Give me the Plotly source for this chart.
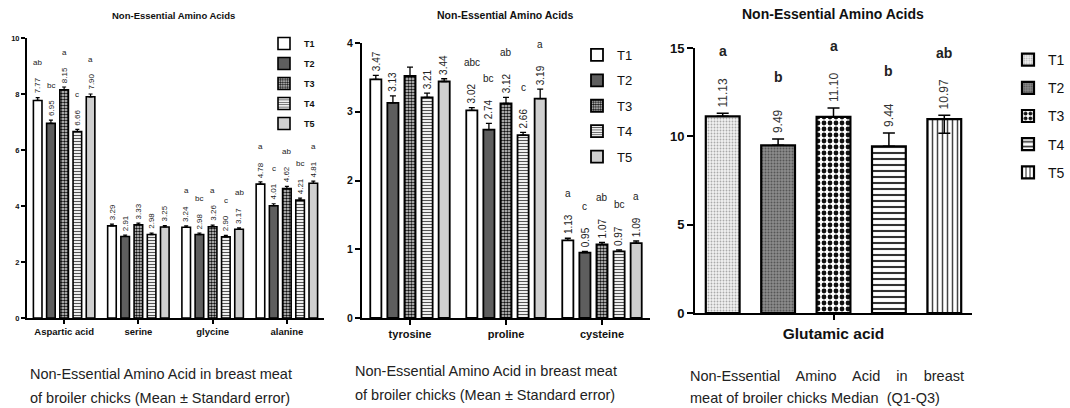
import plotly.graph_objects as go

W, H = 1070, 408
treatments = ["T1", "T2", "T3", "T4", "T5"]

# ---------------- Panel 1 data ----------------
p1_categories = ["Aspartic acid", "serine", "glycine", "alanine"]
p1_values = [
    [7.77, 3.29, 3.24, 4.78],   # T1
    [6.95, 2.91, 2.98, 4.01],   # T2
    [8.15, 3.33, 3.26, 4.62],   # T3
    [6.66, 2.98, 2.90, 4.21],   # T4
    [7.90, 3.25, 3.17, 4.81],   # T5
]
p1_errors = [
    [0.10, 0.06, 0.05, 0.08],
    [0.12, 0.05, 0.05, 0.07],
    [0.10, 0.06, 0.06, 0.08],
    [0.08, 0.05, 0.05, 0.07],
    [0.10, 0.05, 0.05, 0.08],
]
p1_letters = [
    ["ab", "", "a", "a"],
    ["bc", "", "bc", "c"],
    ["a", "", "a", "ab"],
    ["c", "", "c", "bc"],
    ["a", "", "ab", "a"],
]

# ---------------- Panel 2 data ----------------
p2_categories = ["tyrosine", "proline", "cysteine"]
p2_values = [
    [3.47, 3.02, 1.13],
    [3.13, 2.74, 0.95],
    [3.52, 3.12, 1.07],
    [3.21, 2.66, 0.97],
    [3.44, 3.19, 1.09],
]
p2_errors = [
    [0.06, 0.04, 0.03],
    [0.10, 0.09, 0.02],
    [0.13, 0.09, 0.03],
    [0.06, 0.04, 0.02],
    [0.04, 0.14, 0.03],
]
p2_labels = [
    ["3.47", "3.02", "1.13"],
    ["3.13", "2.74", "0.95"],
    ["", "3.12", "1.07"],
    ["3.21", "2.66", "0.97"],
    ["3.44", "3.19", "1.09"],
]
p2_letters = [
    ["", "abc", "a"],
    ["", "bc", "c"],
    ["", "ab", "ab"],
    ["", "c", "bc"],
    ["", "a", "a"],
]

# ---------------- Panel 3 data ----------------
p3_category = "Glutamic acid"
p3_values = [11.13, 9.49, 11.10, 9.44, 10.97]
p3_err_plus = [0.17, 0.36, 0.50, 0.75, 0.23]
p3_err_minus = [0.0, 0.0, 0.0, 0.0, 0.80]
p3_letters = ["a", "b", "a", "b", "ab"]

title_text = "Non-Essential Amino Acids"
captions = [
    ["Non-Essential Amino Acid in breast meat", "of broiler chicks (Mean \u00b1 Standard error)"],
    ["Non-Essential Amino Acid in breast meat", "of broiler chicks (Mean \u00b1 Standard error)"],
    ["Non-Essential    Amino    Acid    in    breast", "meat of broiler chicks Median  (Q1-Q3)"],
]

# ---------------- styles ----------------
FONT = "Liberation Sans, Arial, sans-serif"
NARROW = "Liberation Sans Narrow, Liberation Sans, Arial, sans-serif"

p12_styles = [
    dict(color="white", pattern=dict(shape="")),
    dict(color="#5e5e5e", pattern=dict(shape="")),
    dict(color="white", pattern=dict(shape=".", fgcolor="#111", bgcolor="#e8e8e8", size=3, solidity=0.6)),
    dict(color="white", pattern=dict(shape="-", fgcolor="#555", bgcolor="white", size=3, solidity=0.4)),
    dict(color="#cfcfcf", pattern=dict(shape="")),
]
p3_styles = [
    dict(color="#eeeeee", pattern=dict(shape=".", fgcolor="#aaaaaa", bgcolor="#f2f2f2", size=3, solidity=0.3)),
    dict(color="#808080", pattern=dict(shape=".", fgcolor="#555555", bgcolor="#8c8c8c", size=3, solidity=0.35)),
    dict(color="white", pattern=dict(shape=".", fgcolor="#111111", bgcolor="white", size=6, solidity=0.5)),
    dict(color="white", pattern=dict(shape="-", fgcolor="#333333", bgcolor="white", size=6, solidity=0.35)),
    dict(color="white", pattern=dict(shape="|", fgcolor="#444444", bgcolor="white", size=5, solidity=0.3)),
]

BARGAP = 0.11
BARGROUPGAP = 0.35

# pixel geometry of the three plot areas (left, right, top, bottom)
geo = {
    1: (27, 324, 38, 318),
    2: (362, 650, 43, 318),
    3: (695, 972, 48, 313),
}


def xdom(k):
    l, r, t, b = geo[k]
    return [l / W, r / W]


def ydom(k):
    l, r, t, b = geo[k]
    return [1 - b / H, 1 - t / H]


fig = go.Figure()

# Panel 1 traces
for j, t in enumerate(treatments):
    fig.add_trace(go.Bar(
        x=p1_categories, y=p1_values[j], name=t,
        xaxis="x", yaxis="y", legend="legend", legendgroup="a" + t,
        marker=dict(color=p12_styles[j]["color"], pattern=p12_styles[j]["pattern"],
                    line=dict(color="black", width=1.6)),
        error_y=dict(type="data", array=p1_errors[j], arrayminus=[0] * 4, symmetric=False,
                     color="black", thickness=1.2, width=2),
    ))

# Panel 2 traces
for j, t in enumerate(treatments):
    fig.add_trace(go.Bar(
        x=p2_categories, y=p2_values[j], name=t,
        xaxis="x2", yaxis="y2", legend="legend2", legendgroup="b" + t,
        marker=dict(color=p12_styles[j]["color"], pattern=p12_styles[j]["pattern"],
                    line=dict(color="black", width=1.8)),
        error_y=dict(type="data", array=p2_errors[j], arrayminus=[0] * 3, symmetric=False,
                     color="black", thickness=1.3, width=3),
    ))

# Panel 3 traces
for j, t in enumerate(treatments):
    fig.add_trace(go.Bar(
        x=[t], y=[p3_values[j]], name=t,
        xaxis="x3", yaxis="y3", legend="legend3", legendgroup="c" + t,
        offsetgroup="g3", width=0.61,
        marker=dict(color=p3_styles[j]["color"], pattern=p3_styles[j]["pattern"],
                    line=dict(color="black", width=2.2)),
        error_y=dict(type="data", array=[p3_err_plus[j]], arrayminus=[p3_err_minus[j]],
                     symmetric=False, color="black", thickness=1.5, width=6),
    ))

annotations = []


def group_shift(k, ncat, j):
    l, r, t, b = geo[k]
    cat_px = (r - l) / ncat
    slot = cat_px * (1 - BARGAP) / len(treatments)
    return (j - (len(treatments) - 1) / 2) * slot


# Panel 1 labels
for j in range(len(treatments)):
    for i, c in enumerate(p1_categories):
        top = p1_values[j][i] + p1_errors[j][i]
        dx = group_shift(1, len(p1_categories), j)
        annotations.append(dict(x=c, y=top, xref="x", yref="y", xshift=dx, yshift=2,
                                text=f"{p1_values[j][i]:.2f}", textangle=-90, showarrow=False,
                                xanchor="center", yanchor="bottom",
                                font=dict(family=FONT, size=8, color="#222")))
        if p1_letters[j][i]:
            annotations.append(dict(x=c, y=top, xref="x", yref="y", xshift=dx, yshift=35,
                                    text=p1_letters[j][i], showarrow=False,
                                    xanchor="center", yanchor="middle",
                                    font=dict(family=FONT, size=8, color="#222")))

# Panel 2 labels
for j in range(len(treatments)):
    for i, c in enumerate(p2_categories):
        top = p2_values[j][i] + p2_errors[j][i]
        dx = group_shift(2, len(p2_categories), j)
        if p2_labels[j][i]:
            annotations.append(dict(x=c, y=top, xref="x2", yref="y2", xshift=dx, yshift=2,
                                    text=p2_labels[j][i], textangle=-90, showarrow=False,
                                    xanchor="center", yanchor="bottom",
                                    font=dict(family=FONT, size=10, color="#222")))
        if p2_letters[j][i]:
            annotations.append(dict(x=c, y=top, xref="x2", yref="y2", xshift=dx, yshift=45,
                                    text=p2_letters[j][i], showarrow=False,
                                    xanchor="center", yanchor="middle",
                                    font=dict(family=FONT, size=10, color="#222")))

# Panel 3 labels
for j, t in enumerate(treatments):
    top = p3_values[j] + p3_err_plus[j]
    annotations.append(dict(x=t, y=top, xref="x3", yref="y3", yshift=4,
                            text=f"{p3_values[j]:.2f}", textangle=-90, showarrow=False,
                            xanchor="center", yanchor="bottom",
                            font=dict(family=FONT, size=12, color="#333")))
    annotations.append(dict(x=t, y=top, xref="x3", yref="y3", yshift=62,
                            text=p3_letters[j], showarrow=False,
                            xanchor="center", yanchor="middle",
                            font=dict(family=FONT, size=14, color="#222", weight="bold")))

# Titles
for (xc, yc, sz) in [(173, 16, 9.5), (505, 15, 10.5), (833, 14, 14)]:
    annotations.append(dict(x=xc / W, y=1 - yc / H, xref="paper", yref="paper",
                            text=title_text, showarrow=False, xanchor="center", yanchor="middle",
                            font=dict(family=FONT, size=sz, color="#111", weight="bold")))

# Captions
for k, (xl, y1, y2) in enumerate([(28, 374, 398), (353, 371, 395), (688, 376, 398)]):
    for line, yy in zip(captions[k], (y1, y2)):
        annotations.append(dict(x=xl / W, y=1 - yy / H, xref="paper", yref="paper",
                                text=line, showarrow=False, xanchor="left", yanchor="middle",
                                font=dict(family=NARROW, size=14.5, color="#222")))

axis_common = dict(showline=True, linecolor="black", linewidth=2, ticks="outside",
                   tickcolor="black", tickwidth=2, showgrid=False, zeroline=False,
                   automargin=False)

fig.update_layout(
    template="none",
    width=W, height=H, margin=dict(l=0, r=0, t=0, b=0, pad=0, autoexpand=False),
    paper_bgcolor="white", plot_bgcolor="white",
    barmode="group", bargap=BARGAP, bargroupgap=BARGROUPGAP,
    showlegend=True,
    xaxis=dict(domain=xdom(1), anchor="y", type="category", ticklen=4,
               tickfont=dict(family=FONT, size=9.5, color="#111", weight="bold"), **axis_common),
    yaxis=dict(domain=ydom(1), anchor="x", range=[0, 10], dtick=2, ticklen=4,
               tickfont=dict(family=FONT, size=7.5, color="#111", weight="bold"), **axis_common),
    xaxis2=dict(domain=xdom(2), anchor="y2", type="category", ticklen=5,
                tickfont=dict(family=FONT, size=11, color="#111", weight="bold"), **axis_common),
    yaxis2=dict(domain=ydom(2), anchor="x2", range=[0, 4], dtick=1, ticklen=5,
                tickfont=dict(family=FONT, size=10.5, color="#111", weight="bold"), **axis_common),
    xaxis3=dict(domain=xdom(3), anchor="y3", type="category", categoryorder="array",
                categoryarray=treatments, tickvals=["T3"], ticktext=[p3_category], ticklen=5,
                tickfont=dict(family=FONT, size=15.5, color="#111", weight="bold"), **axis_common),
    yaxis3=dict(domain=ydom(3), anchor="x3", range=[0, 15], dtick=5, ticklen=6,
                tickfont=dict(family=FONT, size=13, color="#111", weight="bold"), **axis_common),
    legend=dict(x=264 / W, y=1 - 29 / H, xanchor="left", yanchor="top", bgcolor="rgba(0,0,0,0)",
                font=dict(family=FONT, size=9, color="#111", weight="bold"), tracegroupgap=1),
    legend2=dict(x=577 / W, y=1 - 40 / H, xanchor="left", yanchor="top", bgcolor="rgba(0,0,0,0)",
                 font=dict(family=FONT, size=13, color="#111"), tracegroupgap=5.5),
    legend3=dict(x=1.0, y=1 - 44 / H, xanchor="right", yanchor="top", bgcolor="rgba(0,0,0,0)",
                 font=dict(family=FONT, size=14, color="#111"), tracegroupgap=7),
    annotations=annotations,
)

fig.write_html("out.html", config={"displayModeBar": False},
               post_script="document.body.style.margin='0';")
